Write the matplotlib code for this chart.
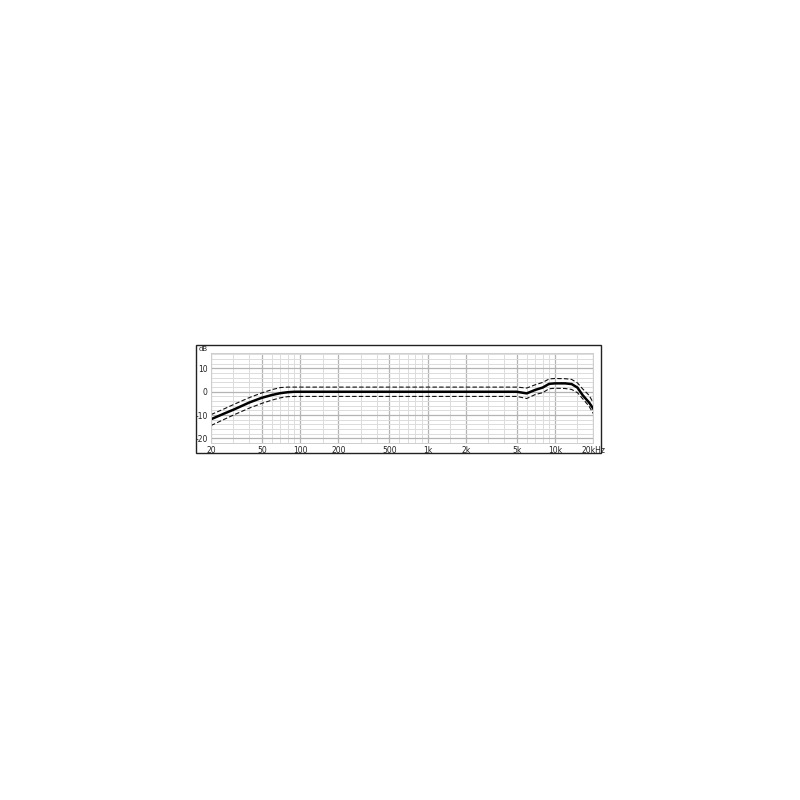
import matplotlib.pyplot as plt
from matplotlib.patches import Rectangle

# frequency response of a microphone, with tolerance band
freq = [20, 25, 30, 40, 50, 60, 70, 80, 90, 100, 1000, 5000, 6000, 7000,
        8000, 9000, 10000, 12000, 13500, 15000, 16500, 18500, 20000]
resp = [-11.8, -9.5, -7.7, -4.6, -2.6, -1.4, -0.6, -0.2, 0, 0, 0, 0, -0.7, 0.8,
        1.8, 3.4, 3.6, 3.6, 3.3, 1.8, -1.5, -4.6, -7.3]
upper = [-9.8, -7.5, -5.5, -2.5, -0.5, 0.9, 1.8, 2, 2, 2, 2, 2, 1.6, 3.0,
         4.0, 5.5, 5.7, 5.6, 5.3, 3.8, 1.2, -1.5, -4.8]
lower = [-14.5, -12, -10, -7, -5, -3.6, -2.6, -2.1, -2, -2, -2, -2, -2.9, -1.2,
         -0.4, 1.3, 1.5, 1.4, 1.0, -0.4, -3.0, -6.2, -9.4]

x_major = [20, 50, 100, 200, 500, 1000, 2000, 5000, 10000, 20000]
x_labels = ['20', '50', '100', '200', '500', '1k', '2k', '5k', '10k', '20kHz']
x_minor = [30, 40, 60, 70, 80, 90, 150, 300, 400, 600, 700, 800, 900,
           1500, 3000, 4000, 6000, 7000, 8000, 9000, 15000]
y_major = [-20, -10, 0, 10]
y_labels = ['-20', '-10', '0', '10']
y_minor = [-22, -18, -16, -14, -12, -8, -6, -4, -2, 2, 4, 6, 8, 12, 14, 16]

fig = plt.figure(figsize=(8, 8), dpi=100)
ax = fig.add_axes([0.2638, 0.44625, 0.4779, 0.1121])

fig.patches.append(Rectangle((0.245, 0.43375), 0.5059, 0.1344,
                             transform=fig.transFigure, fill=False,
                             edgecolor='#222222', linewidth=1.0))

ax.set_xscale('log')
ax.set_xlim(20, 20000)
ax.set_ylim(-22, 16.5)

for v in x_minor:
    ax.axvline(v, color='#dcdcdc', lw=0.7, zorder=0)
for v in x_major:
    ax.axvline(v, color='#b4b4b4', lw=0.9, zorder=0)
for v in y_minor:
    ax.axhline(v, color='#dcdcdc', lw=0.7, zorder=0)
for v in y_major:
    ax.axhline(v, color='#b4b4b4', lw=0.9, zorder=0)

ax.plot(freq, upper, color='#111111', lw=0.8, ls=(0, (4, 2)))
ax.plot(freq, lower, color='#111111', lw=0.8, ls=(0, (4, 2)))
ax.plot(freq, resp, color='black', lw=1.8)

ax.set_xticks(x_major)
ax.set_xticklabels(x_labels)
ax.set_xticks([], minor=True)
ax.set_yticks(y_major)
ax.set_yticklabels(y_labels)
ax.tick_params(axis='both', length=0, labelsize=5.5, colors='#222222')
ax.tick_params(axis='x', pad=2.5)
ax.tick_params(axis='y', pad=2.5)
for s in ax.spines.values():
    s.set_color('#cfcfcf')
    s.set_linewidth(0.7)

fig.text(203 / 800, 1 - 349 / 800, 'dB', fontsize=5, color='#222222',
         ha='center', va='center')

fig.savefig('out.png', dpi=100)
